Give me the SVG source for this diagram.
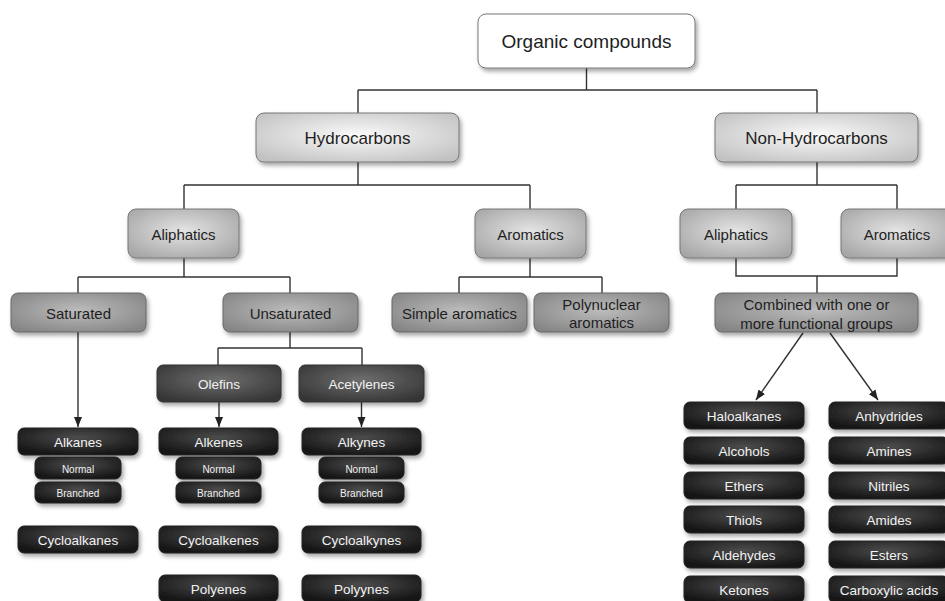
<svg xmlns="http://www.w3.org/2000/svg" width="945" height="601" viewBox="0 0 945 601">
<defs>
<filter id="sh" x="-20%" y="-30%" width="140%" height="170%">
<feDropShadow dx="2" dy="3" stdDeviation="2" flood-color="#000" flood-opacity="0.35"/>
</filter>
<radialGradient id="g1" cx="50%" cy="45%" r="65%"><stop offset="0" stop-color="#fafafa"/><stop offset="1" stop-color="#c2c2c2"/></radialGradient>
<radialGradient id="g2" cx="50%" cy="45%" r="65%"><stop offset="0" stop-color="#e4e4e4"/><stop offset="1" stop-color="#a6a6a6"/></radialGradient>
<radialGradient id="g3" cx="50%" cy="45%" r="65%"><stop offset="0" stop-color="#bcbcbc"/><stop offset="1" stop-color="#858585"/></radialGradient>
<radialGradient id="g4" cx="50%" cy="40%" r="65%"><stop offset="0" stop-color="#6e6e6e"/><stop offset="1" stop-color="#363636"/></radialGradient>
<radialGradient id="g5" cx="50%" cy="35%" r="65%"><stop offset="0" stop-color="#4c4c4c"/><stop offset="1" stop-color="#161616"/></radialGradient>
<marker id="ar" markerUnits="userSpaceOnUse" markerWidth="10" markerHeight="10" viewBox="0 0 10 10" refX="10" refY="5" orient="auto">
<path d="M0,1 L10,5 L0,9 Z" fill="#222"/>
</marker>
<style>
text{font-family:"Liberation Sans",Arial,sans-serif;text-anchor:middle;dominant-baseline:central}
.b0{fill:#fff;stroke:#777;stroke-width:1;filter:url(#sh)}
.b1{fill:url(#g1);stroke:#777;stroke-width:1;filter:url(#sh)}
.b2{fill:url(#g2);stroke:#777;stroke-width:1;filter:url(#sh)}
.b3{fill:url(#g3);stroke:#666;stroke-width:1;filter:url(#sh)}
.b4{fill:url(#g4);stroke:#333;stroke-width:1;filter:url(#sh)}
.b5{fill:url(#g5);stroke:#222;stroke-width:1;filter:url(#sh)}
.tk{fill:#1e1e1e}
.tw{fill:#f2f2f2}
.f19{font-size:19px}.f17{font-size:17px}.f15{font-size:15px}.f13{font-size:13.5px}.f10{font-size:10px}
.cn{fill:none;stroke:#333;stroke-width:1.4}
</style>
</defs>

<g id="connectors" class="cn">
<path d="M586.5,68 V90 M358,90 H817 M358,90 V113 M817,90 V113"/>
<path d="M358,162 V185 M184,185 H530 M184,185 V209 M530,185 V209"/>
<path d="M817,162 V185 M736,185 H897 M736,185 V209 M897,185 V209"/>
<path d="M736,258 V276 H897 V258 M817,276 V293"/>
<path d="M184,258 V277 M78,277 H290 M78,277 V293 M290,277 V293"/>
<path d="M530,258 V277 M459,277 H602 M459,277 V293 M602,277 V293"/>
<path d="M290,332 V348 M218,348 H362 M218,348 V365 M362,348 V365"/>
<path d="M78,332 V427" marker-end="url(#ar)"/>
<path d="M219,402 V427" marker-end="url(#ar)"/>
<path d="M361.5,402 V427" marker-end="url(#ar)"/>
<path d="M803,333 L756,400" marker-end="url(#ar)"/>
<path d="M830,333 L878,400" marker-end="url(#ar)"/>
</g>

<g id="n-organic"><rect class="b0" x="478" y="14" width="217" height="54" rx="8"/><text class="tk f19" x="586.5" y="41">Organic compounds</text></g>
<g id="n-hydrocarbons"><rect class="b1" x="256" y="113" width="203" height="49" rx="8"/><text class="tk f17" x="357.5" y="138">Hydrocarbons</text></g>
<g id="n-nonhydrocarbons"><rect class="b1" x="715" y="113" width="203" height="49" rx="8"/><text class="tk f17" x="816.5" y="138">Non-Hydrocarbons</text></g>
<g id="n-aliphatics1"><rect class="b2" x="128" y="209" width="111" height="49" rx="8"/><text class="tk f15" x="183.5" y="234">Aliphatics</text></g>
<g id="n-aromatics1"><rect class="b2" x="475" y="209" width="111" height="49" rx="8"/><text class="tk f15" x="530.5" y="234">Aromatics</text></g>
<g id="n-aliphatics2"><rect class="b2" x="680" y="209" width="112" height="49" rx="8"/><text class="tk f15" x="736" y="234">Aliphatics</text></g>
<g id="n-aromatics2"><rect class="b2" x="841" y="209" width="112" height="49" rx="8"/><text class="tk f15" x="897" y="234">Aromatics</text></g>

<g id="n-saturated"><rect class="b3" x="11" y="293" width="135" height="39" rx="7"/><text class="tk f15" x="78.5" y="313">Saturated</text></g>
<g id="n-unsaturated"><rect class="b3" x="223" y="293" width="135" height="39" rx="7"/><text class="tk f15" x="290.5" y="313">Unsaturated</text></g>
<g id="n-simple"><rect class="b3" x="392" y="293" width="135" height="39" rx="7"/><text class="tk f15" x="459.5" y="313">Simple aromatics</text></g>
<g id="n-polynuclear"><rect class="b3" x="534" y="293" width="135" height="39" rx="7"/><text class="tk f15" x="601.5" y="304">Polynuclear</text><text class="tk f15" x="601.5" y="322.5">aromatics</text></g>
<g id="n-combined"><rect class="b3" x="715" y="293" width="203" height="39" rx="7"/><text class="tk f15" x="816.5" y="304.5">Combined with one or</text><text class="tk f15" x="816.5" y="323">more functional groups</text></g>

<g id="n-olefins"><rect class="b4" x="157" y="365" width="124" height="37" rx="6"/><text class="tw f13" x="219" y="384">Olefins</text></g>
<g id="n-acetylenes"><rect class="b4" x="299" y="365" width="125" height="37" rx="6"/><text class="tw f13" x="361.5" y="384">Acetylenes</text></g>

<g id="n-alkanes"><rect class="b5" x="18" y="428" width="120" height="27" rx="6"/><text class="tw f13" x="78" y="442">Alkanes</text></g>
<g id="n-normal1"><rect class="b5" x="35" y="457" width="86" height="22" rx="6"/><text class="tw f10" x="78" y="469">Normal</text></g>
<g id="n-branched1"><rect class="b5" x="35" y="482" width="86" height="21" rx="6"/><text class="tw f10" x="78" y="493">Branched</text></g>
<g id="n-cycloalkanes"><rect class="b5" x="18" y="526" width="120" height="27" rx="6"/><text class="tw f13" x="78" y="540">Cycloalkanes</text></g>

<g id="n-alkenes"><rect class="b5" x="159" y="428" width="119" height="27" rx="6"/><text class="tw f13" x="218.5" y="442">Alkenes</text></g>
<g id="n-normal2"><rect class="b5" x="176" y="457" width="85" height="22" rx="6"/><text class="tw f10" x="218.5" y="469">Normal</text></g>
<g id="n-branched2"><rect class="b5" x="176" y="482" width="85" height="21" rx="6"/><text class="tw f10" x="218.5" y="493">Branched</text></g>
<g id="n-cycloalkenes"><rect class="b5" x="159" y="526" width="119" height="27" rx="6"/><text class="tw f13" x="218.5" y="540">Cycloalkenes</text></g>
<g id="n-polyenes"><rect class="b5" x="159" y="575" width="119" height="27" rx="6"/><text class="tw f13" x="218.5" y="589">Polyenes</text></g>

<g id="n-alkynes"><rect class="b5" x="302" y="428" width="119" height="27" rx="6"/><text class="tw f13" x="361.5" y="442">Alkynes</text></g>
<g id="n-normal3"><rect class="b5" x="319" y="457" width="85" height="22" rx="6"/><text class="tw f10" x="361.5" y="469">Normal</text></g>
<g id="n-branched3"><rect class="b5" x="319" y="482" width="85" height="21" rx="6"/><text class="tw f10" x="361.5" y="493">Branched</text></g>
<g id="n-cycloalkynes"><rect class="b5" x="302" y="526" width="119" height="27" rx="6"/><text class="tw f13" x="361.5" y="540">Cycloalkynes</text></g>
<g id="n-polyynes"><rect class="b5" x="302" y="575" width="119" height="27" rx="6"/><text class="tw f13" x="361.5" y="589">Polyynes</text></g>

<g id="n-haloalkanes"><rect class="b5" x="684" y="402" width="120" height="27" rx="6"/><text class="tw f13" x="744" y="416">Haloalkanes</text></g>
<g id="n-alcohols"><rect class="b5" x="684" y="437" width="120" height="27" rx="6"/><text class="tw f13" x="744" y="451">Alcohols</text></g>
<g id="n-ethers"><rect class="b5" x="684" y="472" width="120" height="27" rx="6"/><text class="tw f13" x="744" y="486">Ethers</text></g>
<g id="n-thiols"><rect class="b5" x="684" y="506" width="120" height="27" rx="6"/><text class="tw f13" x="744" y="520">Thiols</text></g>
<g id="n-aldehydes"><rect class="b5" x="684" y="541" width="120" height="27" rx="6"/><text class="tw f13" x="744" y="555">Aldehydes</text></g>
<g id="n-ketones"><rect class="b5" x="684" y="576" width="120" height="27" rx="6"/><text class="tw f13" x="744" y="590">Ketones</text></g>

<g id="n-anhydrides"><rect class="b5" x="829" y="402" width="120" height="27" rx="6"/><text class="tw f13" x="889" y="416">Anhydrides</text></g>
<g id="n-amines"><rect class="b5" x="829" y="437" width="120" height="27" rx="6"/><text class="tw f13" x="889" y="451">Amines</text></g>
<g id="n-nitriles"><rect class="b5" x="829" y="472" width="120" height="27" rx="6"/><text class="tw f13" x="889" y="486">Nitriles</text></g>
<g id="n-amides"><rect class="b5" x="829" y="506" width="120" height="27" rx="6"/><text class="tw f13" x="889" y="520">Amides</text></g>
<g id="n-esters"><rect class="b5" x="829" y="541" width="120" height="27" rx="6"/><text class="tw f13" x="889" y="555">Esters</text></g>
<g id="n-carboxylic"><rect class="b5" x="829" y="576" width="120" height="27" rx="6"/><text class="tw f13" x="889" y="590">Carboxylic acids</text></g>
</svg>
